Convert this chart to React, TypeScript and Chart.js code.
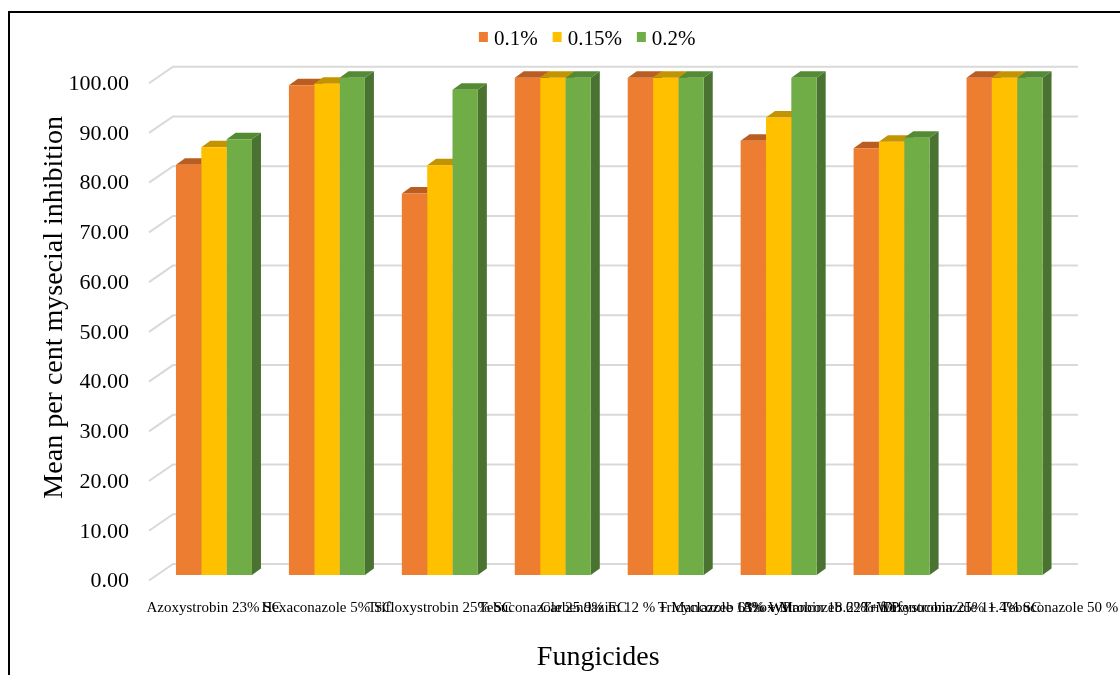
import React, { useEffect, useRef } from "react";
import { Chart, registerables } from "chart.js";

Chart.register(...registerables);

const categories = [
  "Azoxystrobin 23% SC",
  "Hexaconazole 5% SC",
  "Trifloxystrobin 25% SC",
  "Tebuconazole 25.9% EC",
  "Carbendazim 12 % + Mancozeb 63% WP",
  "Tricyclazole 18% + Mancozeb 62% WP",
  "Azoxystrobin 18.2% + Difenoconazole 11.4% SC",
  "Trifloxystrobin 25% + Tebuconazole 50 % WG",
];

const seriesNames = ["0.1%", "0.15%", "0.2%"];
const conc01 = [82.5, 98.5, 76.7, 100, 100, 87.3, 85.8, 100];
const conc015 = [86.0, 98.8, 82.4, 100, 100, 92.0, 87.1, 100];
const conc02 = [87.6, 100, 97.6, 100, 100, 100, 87.9, 100];

const Y_MIN = 0;
const Y_MAX = 100;
const Y_STEP = 10;

const yAxisTitle = "Mean per cent mysecial inhibition";
const xAxisTitle = "Fungicides";

const frontColors = ["#ED7D31", "#FFC000", "#70AD47"];
const topColors = ["#B95D22", "#C49300", "#558A35"];
const sideColors = ["#A9521C", "#B08400", "#4A7230"];

const FONT = "'Liberation Serif', 'Times New Roman', serif";
const DX = 9;
const DY = 6.5;

const bars3d = {
  id: "bars3d",
  beforeDatasetsDraw(chart: any) {
    const ctx = chart.ctx;
    const ys = chart.scales.y;
    const area = chart.chartArea;
    ctx.save();
    ctx.strokeStyle = "#d9d9d9";
    ctx.lineWidth = 2;
    for (let v = Y_MIN; v <= Y_MAX; v += Y_STEP) {
      const py = ys.getPixelForValue(v);
      ctx.beginPath();
      ctx.moveTo(area.left - 8.5, py + 5.5);
      ctx.lineTo(area.left + 15.5, py - 11);
      ctx.lineTo(area.right + 17, py - 11);
      ctx.stroke();
    }
    chart.data.datasets.forEach((_ds: any, i: number) => {
      const meta = chart.getDatasetMeta(i);
      meta.data.forEach((bar: any) => {
        const { x, y, width, base } = bar.getProps(["x", "y", "width", "base"], true);
        const left = x - width / 2;
        const right = x + width / 2;
        ctx.fillStyle = sideColors[i];
        ctx.beginPath();
        ctx.moveTo(right, y);
        ctx.lineTo(right + DX, y - DY);
        ctx.lineTo(right + DX, base - DY);
        ctx.lineTo(right, base);
        ctx.closePath();
        ctx.fill();
        ctx.fillStyle = topColors[i];
        ctx.beginPath();
        ctx.moveTo(left, y);
        ctx.lineTo(right, y);
        ctx.lineTo(right + DX, y - DY);
        ctx.lineTo(left + DX, y - DY);
        ctx.closePath();
        ctx.fill();
      });
    });
    ctx.restore();
  },
  afterDraw(chart: any) {
    const ctx = chart.ctx;
    const area = chart.chartArea;
    const cx = (area.left + area.right) / 2;
    ctx.save();
    ctx.fillStyle = "#000";
    ctx.font = `28px ${FONT}`;
    ctx.textAlign = "center";
    ctx.textBaseline = "alphabetic";
    ctx.fillText(xAxisTitle, cx - 11, area.bottom + 90);
    ctx.save();
    ctx.translate(62, (area.top + area.bottom) / 2 - 19);
    ctx.rotate(-Math.PI / 2);
    ctx.fillText(yAxisTitle, 0, 0);
    ctx.restore();

    // legend
    ctx.font = `21px ${FONT}`;
    ctx.textAlign = "left";
    const box = 9;
    const gap = 6;
    const itemGap = 15;
    const widths = chart.data.datasets.map((d: any) => ctx.measureText(d.label).width);
    let total = 0;
    widths.forEach((w: number, i: number) => {
      total += box + gap + w + (i < widths.length - 1 ? itemGap : 0);
    });
    let x = cx - 22 - total / 2;
    chart.data.datasets.forEach((d: any, i: number) => {
      ctx.fillStyle = d.backgroundColor;
      ctx.fillRect(x, 32, box, box + 1);
      ctx.fillStyle = "#000";
      ctx.fillText(d.label, x + box + gap, 45);
      x += box + gap + widths[i] + itemGap;
    });
    ctx.restore();
  },
};

export default function App() {
  const ref = useRef<HTMLCanvasElement | null>(null);

  useEffect(() => {
    if (!ref.current) return;
    const values = [conc01, conc015, conc02];
    const chart = new Chart(ref.current, {
      type: "bar",
      data: {
        labels: categories,
        datasets: seriesNames.map((name, i) => ({
          label: name,
          data: values[i],
          backgroundColor: frontColors[i],
          borderWidth: 0,
          barPercentage: 1,
          categoryPercentage: 0.673,
        })),
      },
      plugins: [bars3d],
      options: {
        responsive: false,
        animation: false,
        devicePixelRatio: 1,
        layout: { padding: { left: 0, right: 59, top: 77.7, bottom: 0 } },
        plugins: {
          legend: { display: false },
          tooltip: { enabled: false },
        },
        scales: {
          x: {
            grid: { display: false, drawTicks: false },
            border: { display: false },
            ticks: {
              autoSkip: false,
              maxRotation: 0,
              minRotation: 0,
              padding: 24,
              color: "#000",
              font: { family: FONT, size: 15 },
            },
            afterFit: (scale: any) => {
              scale.height = 100;
              scale.paddingLeft = 0;
              scale.paddingRight = 0;
            },
          },
          y: {
            min: Y_MIN,
            max: Y_MAX,
            grid: { display: false, drawTicks: false },
            border: { display: false },
            ticks: {
              stepSize: Y_STEP,
              padding: 28.5,
              labelOffset: 6.5,
              color: "#000",
              font: { family: FONT, size: 22 },
              callback: (v: any) => Number(v).toFixed(2),
            },
            afterFit: (scale: any) => {
              scale.width = 157.5;
              scale.paddingTop = 0;
              scale.paddingBottom = 0;
            },
          },
        },
      },
    } as any);
    return () => chart.destroy();
  }, []);

  return (
    <>
      <div
        style={{
          position: "fixed",
          left: 8,
          top: 11,
          width: 1200,
          height: 800,
          borderTop: "2px solid #000",
          borderLeft: "2px solid #000",
        }}
      />
      <canvas
        ref={ref}
        width={1120}
        height={675}
        style={{ position: "fixed", left: 0, top: 0, width: 1120, height: 675 }}
      />
    </>
  );
}
